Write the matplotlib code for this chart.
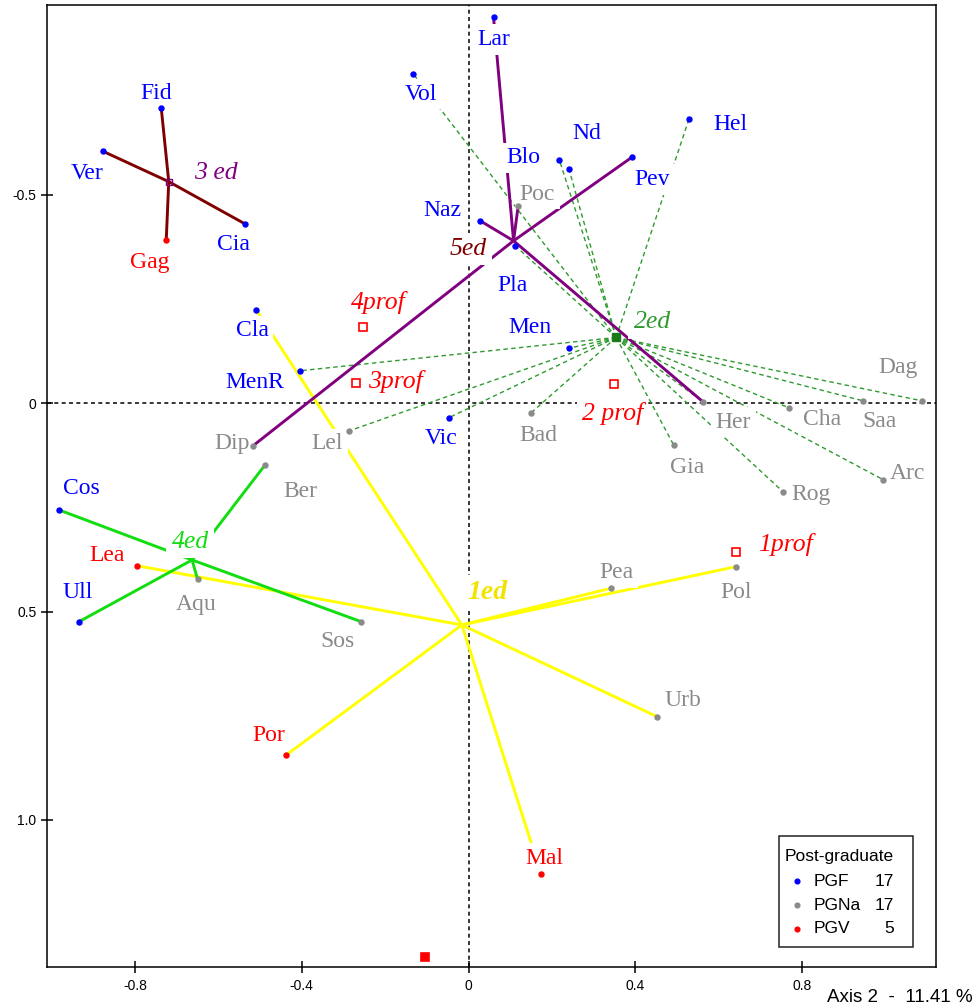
import matplotlib
matplotlib.use("Agg")
import matplotlib.pyplot as plt
from matplotlib.patches import Rectangle

# ---------------- data ----------------
point_names = ["Fid", "Ver", "Cia", "Gag", "Lar", "Vol", "Nd", "Blo", "Hel", "Pev",
               "Poc", "Naz", "Pla", "Men", "Cla", "MenR", "Dip", "Lel", "Vic", "Bad",
               "Her", "Cha", "Dag", "Saa", "Arc", "Gia", "Rog", "Ber", "Cos", "Lea",
               "Ull", "Aqu", "Sos", "Pea", "Pol", "Urb", "Por", "Mal"]
point_x = [-0.737, -0.877, -0.535, -0.725, 0.060, -0.132, 0.241, 0.218, 0.529, 0.391,
           0.119, 0.028, 0.112, 0.241, -0.509, -0.405, -0.517, -0.286, -0.048, 0.150,
           0.563, 0.769, 1.087, 0.946, 0.994, 0.492, 0.755, -0.488, -0.982, -0.794,
           -0.934, -0.650, -0.258, 0.341, 0.642, 0.452, -0.437, 0.174]
point_y = [-0.709, -0.605, -0.430, -0.392, -0.926, -0.790, -0.562, -0.584, -0.683, -0.590,
           -0.473, -0.438, -0.378, -0.132, -0.224, -0.078, 0.102, 0.066, 0.035, 0.023,
           -0.003, 0.011, -0.006, -0.006, 0.183, 0.100, 0.213, 0.148, 0.256, 0.390,
           0.524, 0.422, 0.524, 0.444, 0.392, 0.752, 0.844, 1.130]
point_cat = ["PGF", "PGF", "PGF", "PGV", "PGF", "PGF", "PGF", "PGF", "PGF", "PGF",
             "PGNa", "PGF", "PGF", "PGF", "PGF", "PGF", "PGNa", "PGNa", "PGF", "PGNa",
             "PGNa", "PGNa", "PGNa", "PGNa", "PGNa", "PGNa", "PGNa", "PGNa", "PGF", "PGV",
             "PGF", "PGNa", "PGNa", "PGNa", "PGNa", "PGNa", "PGV", "PGV"]

group_names = ["1ed", "2ed", "3 ed", "4ed", "5ed"]
group_x = [-0.016, 0.354, -0.719, -0.663, 0.108]
group_y = [0.532, -0.158, -0.532, 0.376, -0.390]
group_members = {
    "1ed": ["Cla", "Lea", "Pea", "Pol", "Urb", "Mal", "Por"],
    "2ed": ["Vol", "Blo", "Nd", "Hel", "Pla", "Men", "MenR", "Lel", "Vic", "Bad",
            "Gia", "Rog", "Her", "Cha", "Saa", "Dag", "Arc"],
    "3 ed": ["Fid", "Ver", "Cia", "Gag"],
    "4ed": ["Cos", "Ull", "Ber", "Aqu", "Sos"],
    "5ed": ["Lar", "Poc", "Naz", "Pev", "Her", "Dip"],
}

prof_names = ["1prof", "2 prof", "3prof", "4prof", ""]
prof_x = [0.642, 0.348, -0.269, -0.254, -0.104]
prof_y = [0.358, -0.046, -0.049, -0.184, 1.328]

legend_title = "Post-graduate"
legend_cats = ["PGF", "PGNa", "PGV"]
legend_counts = [17, 17, 5]

xticks = [-0.8, -0.4, 0.0, 0.4, 0.8]
xtick_labels = ["-0.8", "-0.4", "0", "0.4", "0.8"]
yticks = [-0.5, 0.0, 0.5, 1.0]
ytick_labels = ["-0.5", "0", "0.5", "1.0"]
axis_title = "Axis 2  -  11.41 %"

# ---------------- styles ----------------
cat_color = {"PGF": "#0000ff", "PGNa": "#8a8a8a", "PGV": "#ff0000"}
group_line = {
    "1ed": dict(color="#ffff00", lw=2.1, ls="-"),
    "2ed": dict(color="#2f9a2f", lw=1.0, ls=(0, (3.2, 2.4))),
    "3 ed": dict(color="#800000", lw=2.1, ls="-"),
    "4ed": dict(color="#11dd11", lw=2.1, ls="-"),
    "5ed": dict(color="#800080", lw=2.1, ls="-"),
}
group_label_style = {
    "1ed": dict(color="#f2e400", weight="bold", size=20),
    "2ed": dict(color="#2f9a2f", weight="normal", size=18.5),
    "3 ed": dict(color="#800080", weight="normal", size=18.5),
    "4ed": dict(color="#11dd11", weight="normal", size=18.5),
    "5ed": dict(color="#800000", weight="normal", size=18.5),
}
# label offsets in pixels (dx, dy-up) relative to the point
label_off = {
    "Fid": (-5, 14), "Ver": (-16, -22), "Cia": (-12, -20), "Gag": (-16, -23),
    "Lar": (0, -22), "Vol": (7, -20), "Nd": (18, 36), "Blo": (-36, 2),
    "Hel": (41, -6), "Pev": (21, -22), "Poc": (19, 12), "Naz": (-38, 10),
    "Pla": (-3, -40), "Men": (-39, 21), "Cla": (-4, -21), "MenR": (-45, -12),
    "Dip": (-21, 2), "Lel": (-22, -13), "Vic": (-7, -21), "Bad": (7, -23),
    "Her": (30, -20), "Cha": (33, -12), "Dag": (-24, 33), "Saa": (17, -21),
    "Arc": (24, 6), "Gia": (13, -23), "Rog": (28, -2), "Ber": (35, -27),
    "Cos": (22, 21), "Lea": (-30, 10), "Ull": (-1, 29), "Aqu": (-1, -25),
    "Sos": (-23, -20), "Pea": (6, 16), "Pol": (0, -26), "Urb": (26, 16),
    "Por": (-18, 19), "Mal": (3, 16),
}
group_off = {"1ed": (26, 32), "2ed": (36, 15), "3 ed": (47, 9), "4ed": (-2, 18), "5ed": (-45, -8)}
prof_off = {"1prof": (49, 8), "2 prof": (-1, -29), "3prof": (39, 1), "4prof": (16, 24)}

W, H = 978, 1008
fig = plt.figure(figsize=(W / 100, H / 100), dpi=100)
ax = fig.add_axes([47 / W, 1 - 967 / H, (935.5 - 47) / W, (967 - 5) / H])
ax.set_xlim(-1.011, 1.120)
ax.set_ylim(1.353, -0.956)

serif = "Liberation Serif"
sans = "Liberation Sans"
white_box = dict(boxstyle="square,pad=0.2", fc="white", ec="none")

# zero lines
ax.axhline(0, color="black", lw=1.1, ls=(0, (2.6, 2.2)), zorder=1)
ax.axvline(0, color="black", lw=1.1, ls=(0, (2.6, 2.2)), zorder=1)

idx = {n: i for i, n in enumerate(point_names)}

# group stars
for g, gx, gy in zip(group_names, group_x, group_y):
    st = group_line[g]
    for m in group_members[g]:
        i = idx[m]
        ax.plot([gx, point_x[i]], [gy, point_y[i]], color=st["color"], lw=st["lw"],
                ls=st["ls"], solid_capstyle="butt", zorder=2)

# group centre markers
ax.plot(group_x[2], group_y[2], marker="s", ms=5, mfc="none", mec="#800080", mew=1.0, zorder=4)
ax.plot(group_x[1], group_y[1], marker="s", ms=6, mfc="#1a7a1a", mec="#1a7a1a", mew=1.0, zorder=4)

# point labels
for n, x, y, c in zip(point_names, point_x, point_y, point_cat):
    dx, dy = label_off[n]
    ax.annotate(n, (x, y), xytext=(dx, dy), textcoords="offset pixels", ha="center",
                va="center", fontsize=17, family=serif, color=cat_color[c],
                bbox=white_box, zorder=3)

# group labels
for g, gx, gy in zip(group_names, group_x, group_y):
    st = group_label_style[g]
    dx, dy = group_off[g]
    ax.annotate(g, (gx, gy), xytext=(dx, dy), textcoords="offset pixels", ha="center",
                va="center", fontsize=st["size"], family=serif, style="italic",
                weight=st["weight"], color=st["color"], bbox=white_box, zorder=3)

# prof squares
for n, x, y in zip(prof_names, prof_x, prof_y):
    if n:
        ax.plot(x, y, marker="s", ms=6, mfc="white", mec="#ff0000", mew=1.2, zorder=4)
        dx, dy = prof_off[n]
        ax.annotate(n, (x, y), xytext=(dx, dy), textcoords="offset pixels", ha="center",
                    va="center", fontsize=18.5, family=serif, style="italic",
                    color="#ff0000", bbox=white_box, zorder=3)
    else:
        ax.plot(x, y, marker="s", ms=6, mfc="#ff0000", mec="#ff0000", mew=1.2, zorder=4)

# points
for x, y, c in zip(point_x, point_y, point_cat):
    ax.plot(x, y, marker="o", ms=3.6, color=cat_color[c], mec=cat_color[c], zorder=5)

# axes styling
for s in ax.spines.values():
    s.set_linewidth(1.1)
ax.set_xticks(xticks)
ax.set_xticklabels(xtick_labels, family=sans, fontsize=10)
ax.set_yticks(yticks)
ax.set_yticklabels(ytick_labels, family=sans, fontsize=10)
ax.tick_params(axis="x", direction="inout", length=9, width=1.1, pad=4)
ax.tick_params(axis="y", direction="inout", length=9, width=1.1, pad=3)

fig.text(973 / W, 1 - 997 / H, axis_title, ha="right", va="center", family=sans, fontsize=13.5)

# legend box
def fpt(px, py):
    return (px / W, 1 - py / H)

x0, y0 = fpt(779, 947)
fig.add_artist(Rectangle((x0, y0), (913 - 779) / W, (947 - 836) / H, transform=fig.transFigure,
                         fc="white", ec="#222222", lw=1.1, zorder=6))
tx, ty = fpt(785, 856)
fig.text(tx, ty, legend_title, ha="left", va="center", family=sans, fontsize=12.5, zorder=7)
row_y = [881, 905, 928.5]
for cat, cnt, ry in zip(legend_cats, legend_counts, row_y):
    dxp, dyp = fpt(797, ry)
    fig.add_artist(plt.Line2D([dxp], [dyp], marker="o", ms=3.4, color=cat_color[cat],
                              transform=fig.transFigure, zorder=7))
    nx, ny = fpt(814, ry)
    fig.text(nx, ny, cat, ha="left", va="center", family=sans, fontsize=12.5, zorder=7)
    cx, cy = fpt(894, ry)
    fig.text(cx, cy, str(cnt), ha="right", va="center", family=sans, fontsize=12.5, zorder=7)

fig.savefig("out.png", dpi=100)
